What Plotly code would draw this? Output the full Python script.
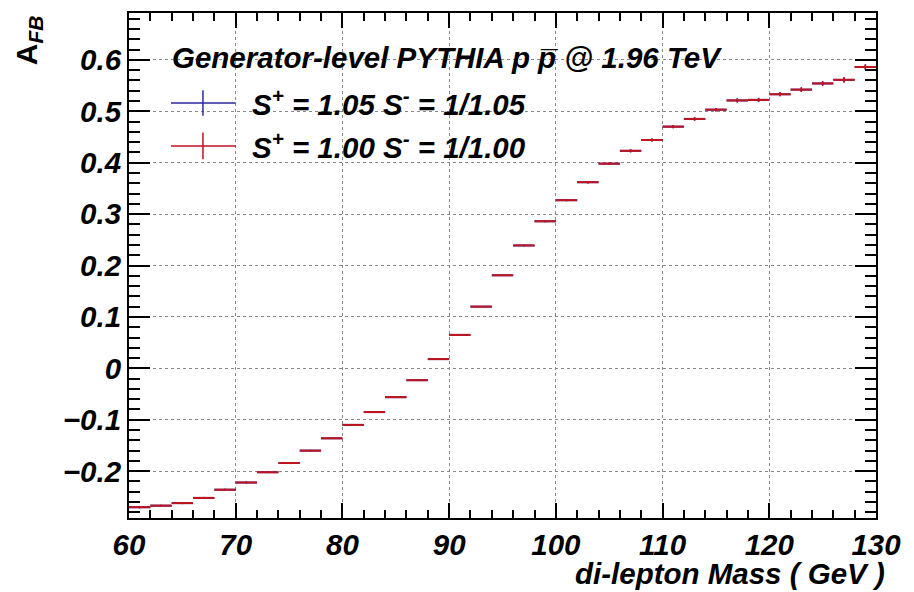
import plotly.graph_objects as go

# bin centres (GeV), 2 GeV bins from 60 to 130
mass = [61, 63, 65, 67, 69, 71, 73, 75, 77, 79, 81, 83, 85, 87, 89, 91, 93, 95,
        97, 99, 101, 103, 105, 107, 109, 111, 113, 115, 117, 119, 121, 123, 125, 127, 129]
half_width = [1.0] * len(mass)

afb_s100 = [-0.270, -0.267, -0.262, -0.252, -0.236, -0.222, -0.202, -0.184, -0.160,
            -0.136, -0.110, -0.085, -0.056, -0.023, 0.018, 0.065, 0.120, 0.181,
            0.239, 0.286, 0.327, 0.362, 0.398, 0.423, 0.444, 0.470, 0.485, 0.503,
            0.521, 0.522, 0.533, 0.542, 0.554, 0.561, 0.586]
afb_s105 = list(afb_s100)  # hidden underneath the red series in the reference
err = [0.002, 0.002, 0.002, 0.002, 0.002, 0.002, 0.0015, 0.0015, 0.0015, 0.0012,
       0.001, 0.001, 0.001, 0.001, 0.0008, 0.0005, 0.0008, 0.001, 0.0015, 0.002,
       0.002, 0.0025, 0.0025, 0.003, 0.003, 0.003, 0.0035, 0.0035, 0.004, 0.004,
       0.004, 0.0045, 0.0045, 0.005, 0.005]

labels = ["S<sup>+</sup> = 1.05 S<sup>-</sup> = 1/1.05",
          "S<sup>+</sup> = 1.00 S<sup>-</sup> = 1/1.00"]
colors = ["#2a2a9e", "#c0141e"]
legend_title = "Generator-level PYTHIA p p\u0305 @ 1.96 TeV"

FONT = "Liberation Sans, Arial, Helvetica, sans-serif"
bi = dict(family=FONT, weight="bold", style="italic", color="black")
FS = 29.5

fig = go.Figure()
for vals, col, lab in [(afb_s105, colors[0], labels[0]), (afb_s100, colors[1], labels[1])]:
    fig.add_trace(go.Scatter(
        x=mass, y=vals, mode="markers", name=lab,
        marker=dict(size=1, color=col, opacity=0),
        error_x=dict(type="data", array=half_width, width=0, thickness=2, color=col),
        error_y=dict(type="data", array=err, width=0, thickness=1.5, color=col),
        showlegend=False,
    ))

# manual ROOT-style legend (symbols in data coordinates)
leg_rows = [(0.516, 0.025), (0.4325, 0.026)]
leg_x0, leg_x1 = 63.94, 70.0
leg_xm = 66.93
for (yc, h), col in zip(leg_rows, colors):
    fig.add_shape(type="line", xref="x", yref="y", x0=leg_x0, x1=leg_x1, y0=yc, y1=yc,
                  line=dict(color=col, width=1.5))
    fig.add_shape(type="line", xref="x", yref="y", x0=leg_xm, x1=leg_xm, y0=yc - h, y1=yc + h,
                  line=dict(color=col, width=1.5))

fig.add_annotation(x=63.84, y=0.604, xref="x", yref="y", text=legend_title, showarrow=False,
                   xanchor="left", yanchor="middle", font=dict(size=FS, **bi))
for (yc, h), lab in zip(leg_rows, labels):
    fig.add_annotation(x=71.34, y=yc, xref="x", yref="y", text=lab, showarrow=False,
                       xanchor="left", yanchor="middle", font=dict(size=FS, **bi))

# axis titles
fig.add_annotation(x=1.0147, y=-0.11, xref="paper", yref="paper",
                   text="di-lepton Mass ( GeV )", showarrow=False,
                   xanchor="right", yanchor="middle", font=dict(size=FS, **bi))
fig.add_annotation(x=-0.135, y=1.0, xref="paper", yref="paper",
                   text="A<sub><i>FB</i></sub>", showarrow=False, textangle=-90,
                   xanchor="center", yanchor="top",
                   font=dict(size=30, family=FONT, weight="bold", color="black"))

axis_common = dict(
    showline=True, linecolor="black", linewidth=2, mirror="ticks",
    ticks="inside", tickcolor="black", tickwidth=2,
    showgrid=True, gridcolor="#888888", griddash="dot", gridwidth=1,
    zeroline=False, automargin=False,
    tickfont=dict(size=FS, **bi),
)
fig.update_xaxes(range=[60, 130], dtick=10, tick0=60, ticklen=15,
                 minor=dict(ticks="inside", dtick=2, ticklen=8, tickcolor="black", tickwidth=2, showgrid=False),
                 **axis_common)
fig.update_yaxes(range=[-0.291, 0.691], dtick=0.1, tick0=0, ticklen=21,
                 minor=dict(ticks="inside", dtick=0.02, ticklen=11, tickcolor="black", tickwidth=2, showgrid=False),
                 **axis_common)

# page body has an 8px default margin, so the figure is sized to fit the window
fig.update_layout(
    width=906, height=584,
    margin=dict(l=121, r=38, t=5, b=74),
    paper_bgcolor="white", plot_bgcolor="white",
    showlegend=False,
)
fig.write_html("out.html")
